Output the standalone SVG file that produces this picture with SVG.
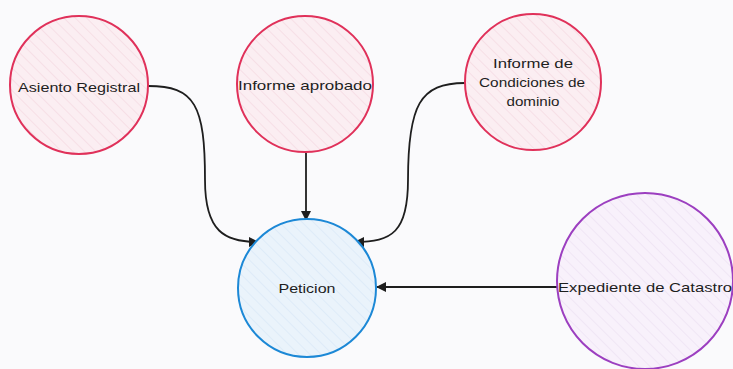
<svg xmlns="http://www.w3.org/2000/svg" width="733" height="369" viewBox="0 0 733 369">
<defs>
<pattern id="hR" patternUnits="userSpaceOnUse" width="8" height="8" patternTransform="rotate(-45)">
<rect width="8" height="8" fill="#fbeef2"/>
<line x1="0" y1="0" x2="0" y2="8" stroke="#f3d6df" stroke-width="1.2"/>
</pattern>
<pattern id="hB" patternUnits="userSpaceOnUse" width="8" height="8" patternTransform="rotate(-45)">
<rect width="8" height="8" fill="#eaf3fb"/>
<line x1="0" y1="0" x2="0" y2="8" stroke="#d6e7f6" stroke-width="1.2"/>
</pattern>
<pattern id="hP" patternUnits="userSpaceOnUse" width="8" height="8" patternTransform="rotate(-45)">
<rect width="8" height="8" fill="#f8f1fb"/>
<line x1="0" y1="0" x2="0" y2="8" stroke="#ece0f2" stroke-width="1.2"/>
</pattern>
<marker id="arr" viewBox="0 0 10 10" refX="9" refY="5" markerWidth="10" markerHeight="10" markerUnits="userSpaceOnUse" orient="auto">
<path d="M0,0 L10,5 L0,10 Z" fill="#1e1e1e"/>
</marker>
<style>
.red{fill:url(#hR);stroke:#e0315a;stroke-width:2}
.blue{fill:url(#hB);stroke:#1c88d6;stroke-width:2}
.pur{fill:url(#hP);stroke:#9c3fc0;stroke-width:2}
.t{font-family:"Liberation Sans",Arial,sans-serif;font-size:13.5px;fill:#1e1e1e;text-anchor:middle;dominant-baseline:central}
.c{fill:none;stroke:#1e1e1e;stroke-width:1.8;marker-end:url(#arr)}
</style>
</defs>
<rect width="733" height="369" fill="#fafafc"/>
<g id="connectors">
<path class="c" d="M148,86 C195,86 205,105 205,180 C205,232 225,242 258,242"/>
<path class="c" d="M306,153 L306,220"/>
<path class="c" d="M465,83 C420,83 408,105 408,180 C408,232 392,242 355,242"/>
<path class="c" d="M557,287 L377,287"/>
</g>
<g id="asiento">
<circle class="red" cx="79" cy="85" r="69"/>
<text class="t" x="79" y="87" textLength="122" lengthAdjust="spacingAndGlyphs">Asiento Registral</text>
</g>
<g id="informe-aprobado">
<circle class="red" cx="305" cy="84" r="68"/>
<text class="t" x="305" y="85" textLength="134" lengthAdjust="spacingAndGlyphs">Informe aprobado</text>
</g>
<g id="informe-condiciones">
<circle class="red" cx="533" cy="82" r="68"/>
<text class="t" x="533" y="63" textLength="80" lengthAdjust="spacingAndGlyphs">Informe de</text>
<text class="t" x="532" y="82" textLength="106" lengthAdjust="spacingAndGlyphs">Condiciones de</text>
<text class="t" x="533" y="101" textLength="53" lengthAdjust="spacingAndGlyphs">dominio</text>
</g>
<g id="peticion">
<circle class="blue" cx="307" cy="288" r="69"/>
<text class="t" x="307" y="288" textLength="57" lengthAdjust="spacingAndGlyphs">Peticion</text>
</g>
<g id="expediente">
<circle class="pur" cx="645" cy="281" r="88"/>
<text class="t" x="645" y="287" textLength="174" lengthAdjust="spacingAndGlyphs">Expediente de Catastro</text>
</g>
</svg>
